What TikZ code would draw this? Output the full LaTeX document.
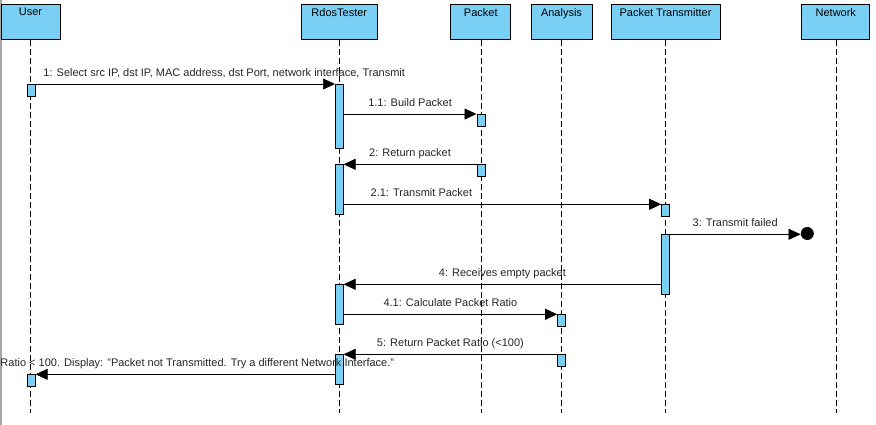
\documentclass[tikz,border=0pt]{standalone}
\usepackage{fontspec}
\setmainfont{Liberation Sans}
\usetikzlibrary{arrows.meta}
\definecolor{vpblue}{RGB}{122,207,245}
\begin{document}
\begin{tikzpicture}[x=1pt,y=1pt,
 font=\fontsize{11}{13}\selectfont,
 header/.style={draw=black, line width=0.8pt, fill=vpblue, minimum height=35pt, inner sep=0pt, anchor=north},
 hlabel/.style={anchor=north, inner sep=0pt, yshift=-4pt},
 act/.style={draw=black, line width=0.6pt, fill=vpblue, minimum width=8pt, inner sep=0pt, anchor=north},
 life/.style={dash pattern=on 6pt off 3pt, line width=0.6pt},
 msg/.style={-{Triangle[length=12pt,width=11pt]}, line width=0.7pt},
 lbl/.style={anchor=base, inner sep=0pt, yshift=7.5pt, text=black!85}
]
\useasboundingbox (0,0) rectangle (876,-425);
\draw[gray!70, line width=1.5pt] (0.75,0) -- (0.75,-425);

% headers
\node[header, minimum width=59pt, label={[hlabel]north:User}] (user) at (30.5,-4) {};
\node[header, minimum width=76pt, label={[hlabel]north:RdosTester}] (rdos) at (339.3,-4) {};
\node[header, minimum width=60pt, label={[hlabel]north:Packet}] (packet) at (480.8,-4) {};
\node[header, minimum width=61pt, label={[hlabel]north:Analysis}] (analysis) at (561.5,-4) {};
\node[header, minimum width=109pt, label={[hlabel]north:Packet Transmitter}] (ptx) at (665.5,-4) {};
\node[header, minimum width=68pt, label={[hlabel]north:Network}] (network) at (835.8,-4) {};

% lifeline ends
\coordinate (userend) at (30.5,-413);
\coordinate (rdosend) at (339.3,-413);
\coordinate (packetend) at (480.8,-413);
\coordinate (analysisend) at (561.5,-413);
\coordinate (ptxend) at (665.5,-413);
\coordinate (networkend) at (835.8,-413);
\foreach \n in {user,rdos,packet,analysis,ptx,network}
  \draw[life] (\n.south) -- (\n end);

% activations
\node[act, minimum height=12pt] (u1) at (31.3,-84) {};
\node[act, minimum height=64pt] (r1) at (339.3,-84) {};
\node[act, minimum height=12pt] (p1) at (480.8,-114) {};
\node[act, minimum height=12pt] (p2) at (480.8,-164.3) {};
\node[act, minimum height=50pt] (r2) at (339.3,-164.3) {};
\node[act, minimum height=12pt] (t1) at (665.5,-204.3) {};
\node[act, minimum height=60pt] (t2) at (665.5,-234.3) {};
\node[act, minimum height=40pt] (r3) at (339.3,-284.3) {};
\node[act, minimum height=12pt] (a1) at (561.5,-314.3) {};
\node[act, minimum height=12pt] (a2) at (561.5,-354.3) {};
\node[act, minimum height=30pt] (r4) at (339.3,-354.3) {};
\node[act, minimum height=12pt] (u2) at (31.3,-374.3) {};

% lost message end
\node[circle, fill=black, minimum size=13pt, inner sep=0pt] (lost) at (807.3,-233.5) {};

% messages
\draw[msg] (u1.north east) -- node[lbl, pos=0.63] {1: Select src IP, dst IP, MAC address, dst Port, network interface, Transmit} (r1.north west);
\draw[msg] (r1.east |- p1.north) -- node[lbl] {1.1: Build Packet} (p1.north west);
\draw[msg] (p2.north west) -- node[lbl] {2: Return packet} (r2.north east);
\draw[msg] (r2.east |- t1.north) -- node[lbl, pos=0.245] {2.1: Transmit Packet} (t1.north west);
\draw[msg] (t2.north east) -- node[lbl] {3: Transmit failed} (lost.west |- t2.north);
\draw[msg] (t2.west |- r3.north) -- node[lbl] {4: Receives empty packet} (r3.north east);
\draw[msg] (r3.east |- a1.north) -- node[lbl] {4.1: Calculate Packet Ratio} (a1.north west);
\draw[msg] (a2.north west) -- node[lbl] {5: Return Packet Ratio (<100)} (r4.north east);
\draw[msg] (r4.west |- u2.north) -- node[lbl, pos=0.46] {Ratio < 100. Display: "Packet not Transmitted. Try a different Network Interface."} (u2.north east);
\end{tikzpicture}
\end{document}
